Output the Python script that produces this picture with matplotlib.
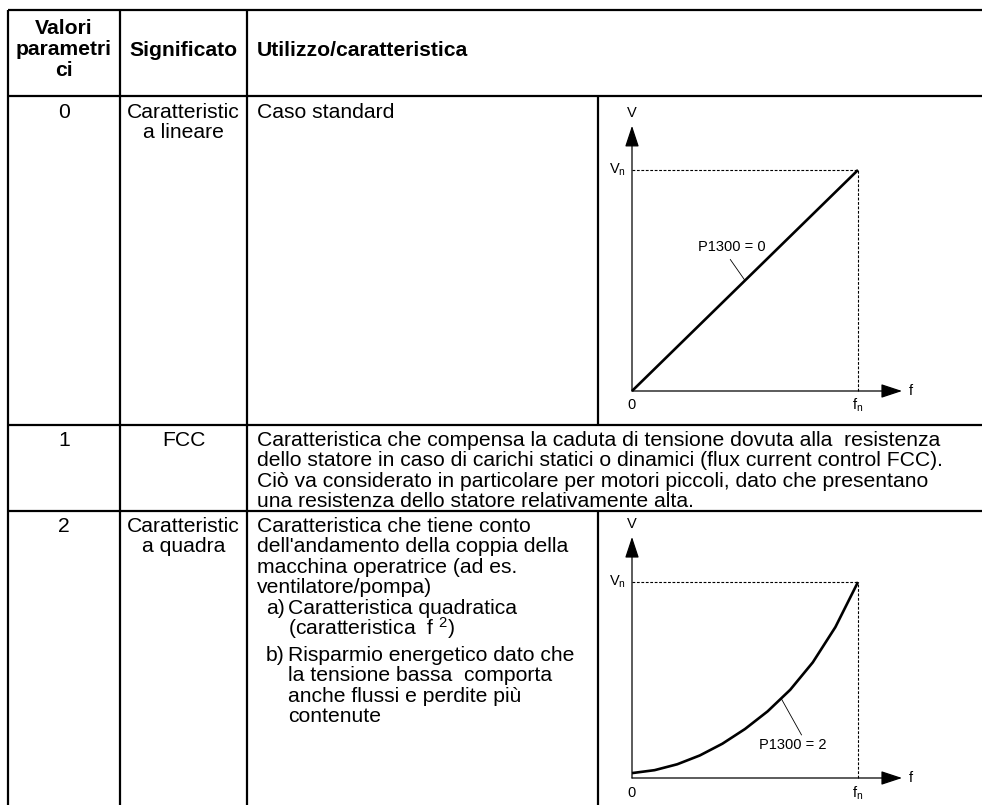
import matplotlib
matplotlib.use("Agg")
import matplotlib.pyplot as plt
import numpy as np

plt.rcParams['font.family'] = ['Liberation Sans', 'DejaVu Sans']
plt.rcParams['mathtext.fontset'] = 'custom'
plt.rcParams['mathtext.rm'] = 'Liberation Sans'
plt.rcParams['mathtext.it'] = 'Liberation Sans'

# ---------------- data ----------------
header = ["Valori\nparametri\nci", "Significato", "Utilizzo/caratteristica"]
param_values = ["0", "1", "2"]
meanings = ["Caratteristic\na lineare", "FCC", "Caratteristic\na quadra"]
usage_row0 = ["Caso standard"]
usage_row1 = [
    "Caratteristica che compensa la caduta di tensione dovuta alla  resistenza",
    "dello statore in caso di carichi statici o dinamici (flux current control FCC).",
    "Ciò va considerato in particolare per motori piccoli, dato che presentano",
    "una resistenza dello statore relativamente alta.",
]
usage_row2_intro = [
    "Caratteristica che tiene conto",
    "dell'andamento della coppia della",
    "macchina operatrice (ad es.",
    "ventilatore/pompa)",
]
usage_row2_a = ["Caratteristica quadratica", "(caratteristica  f $^{2}$)"]
usage_row2_b = ["Risparmio energetico dato che", "la tensione bassa  comporta",
                "anche flussi e perdite più", "contenute"]

# characteristic curves (normalised f/fn, V/Vn)
f_linear = [0.0, 1.0]
v_linear = [0.0, 1.0]
f_quad = [0.0, 0.1, 0.2, 0.3, 0.4, 0.5, 0.6, 0.7, 0.8, 0.9, 1.0]
v_quad = [0.025, 0.04, 0.07, 0.115, 0.175, 0.25, 0.34, 0.45, 0.59, 0.77, 1.0]
curve_labels = ["P1300 = 0", "P1300 = 2"]

# ---------------- layout (pixels) ----------------
W, H = 982, 805
fig = plt.figure(figsize=(W / 100, H / 100), dpi=100)
ax = fig.add_axes([0, 0, 1, 1])
ax.set_xlim(0, W)
ax.set_ylim(H, 0)
ax.axis('off')

y_top, y_head, y_r0, y_r1 = 10, 96, 425, 511
x_c0, x_c1, x_c2, x_c3 = 8, 120, 247, 598
LW = 1.6
for y in (y_top, y_head, y_r0, y_r1):
    ax.plot([x_c0, W], [y, y], color='black', lw=LW, solid_capstyle='butt')
for x in (x_c0, x_c1, x_c2):
    ax.plot([x, x], [y_top, H], color='black', lw=LW, solid_capstyle='butt')
ax.plot([x_c3, x_c3], [y_head, y_r0], color='black', lw=LW, solid_capstyle='butt')
ax.plot([x_c3, x_c3], [y_r1, H], color='black', lw=LW, solid_capstyle='butt')

# fit font size so the long FCC line spans its measured width
renderer = fig.canvas.get_renderer()
probe = ax.text(0, 0, usage_row1[1], fontsize=10)
wpx = probe.get_window_extent(renderer).width
probe.remove()
FS = 10 * 692.0 / wpx
LS = 20.5

tx = 257
def col_text(x, y, s, ha='left', bold=False):
    ax.text(x, y, s, ha=ha, va='center', fontsize=FS,
            fontweight='bold' if bold else 'normal')

# header
for i, line in enumerate(header[0].split("\n")):
    col_text((x_c0 + x_c1) / 2, 28 + i * 21.5, line, ha='center', bold=True)
col_text((x_c1 + x_c2) / 2, 50, header[1], ha='center', bold=True)
col_text(tx, 50, header[2], bold=True)

# rows
row_first = [y_head + 16, y_r0 + 15, y_r1 + 15]
for r in range(3):
    col_text((x_c0 + x_c1) / 2, row_first[r], param_values[r], ha='center')
    for i, line in enumerate(meanings[r].split("\n")):
        col_text((x_c1 + x_c2) / 2, row_first[r] + i * LS, line, ha='center')

col_text(tx, row_first[0], usage_row0[0])
for i, line in enumerate(usage_row1):
    col_text(tx, row_first[1] + i * LS, line)
y = row_first[2]
for line in usage_row2_intro:
    col_text(tx, y, line)
    y += LS
col_text(tx + 9, y, "a)")
for line in usage_row2_a:
    col_text(tx + 31, y, line)
    y += LS
y += 6
col_text(tx + 9, y, "b)")
for line in usage_row2_b:
    col_text(tx + 31, y, line)
    y += LS

# ---------------- inset charts ----------------
def make_chart(x0, y0, x1, y1, f, v, label, lab_xy, lead_from, lead_f,
               ytip, vlab, flab):
    cax = fig.add_axes([x0 / W, 1 - y0 / H, (x1 - x0) / W, (y0 - y1) / H])
    cax.set_xlim(0, 1)
    cax.set_ylim(0, 1)
    cax.axis('off')
    ap = dict(arrowstyle='-|>,head_length=1.3,head_width=0.43', lw=0.9,
              color='black', shrinkA=0, shrinkB=0, mutation_scale=10)
    cax.annotate('', xy=(1.195, 0), xytext=(0, 0), xycoords='data',
                 arrowprops=ap, annotation_clip=False)
    cax.annotate('', xy=(0, ytip), xytext=(0, 0), xycoords='data',
                 arrowprops=ap, annotation_clip=False)
    cax.plot([0, 1], [1, 1], color='black', lw=0.8, ls=(0, (2.5, 1.5)), clip_on=False)
    cax.plot([1, 1], [0, 1], color='black', lw=0.8, ls=(0, (2.5, 1.5)), clip_on=False)
    cax.plot(f, v, color='black', lw=1.9, clip_on=False, solid_capstyle='butt')
    fs = 10.5
    cax.text(0, vlab, "V", ha='center', va='center', fontsize=fs)
    cax.text(-0.025, 1.0, "V$_{\\mathrm{n}}$", ha='right', va='center', fontsize=fs)
    cax.text(0, flab, "0", ha='center', va='center', fontsize=fs)
    cax.text(1, flab, "f$_{\\mathrm{n}}$", ha='center', va='center', fontsize=fs)
    cax.text(1.225, 0, "f", ha='left', va='center', fontsize=fs)
    cax.text(lab_xy[0], lab_xy[1], label, ha='center', va='center', fontsize=fs)
    v_at = float(np.interp(lead_f, f, v))
    cax.plot([lead_from[0], lead_f], [lead_from[1], v_at], color='black', lw=0.6,
             clip_on=False)

make_chart(632, 391, 858, 170, f_linear, v_linear, curve_labels[0],
           (0.44, 0.65), (0.435, 0.595), 0.5, 1.2, 1.258, -0.065)
make_chart(632, 778, 858, 582, f_quad, v_quad, curve_labels[1],
           (0.71, 0.17), (0.75, 0.22), 0.66, 1.23, 1.296, -0.077)

fig.savefig("out.png", dpi=100)
